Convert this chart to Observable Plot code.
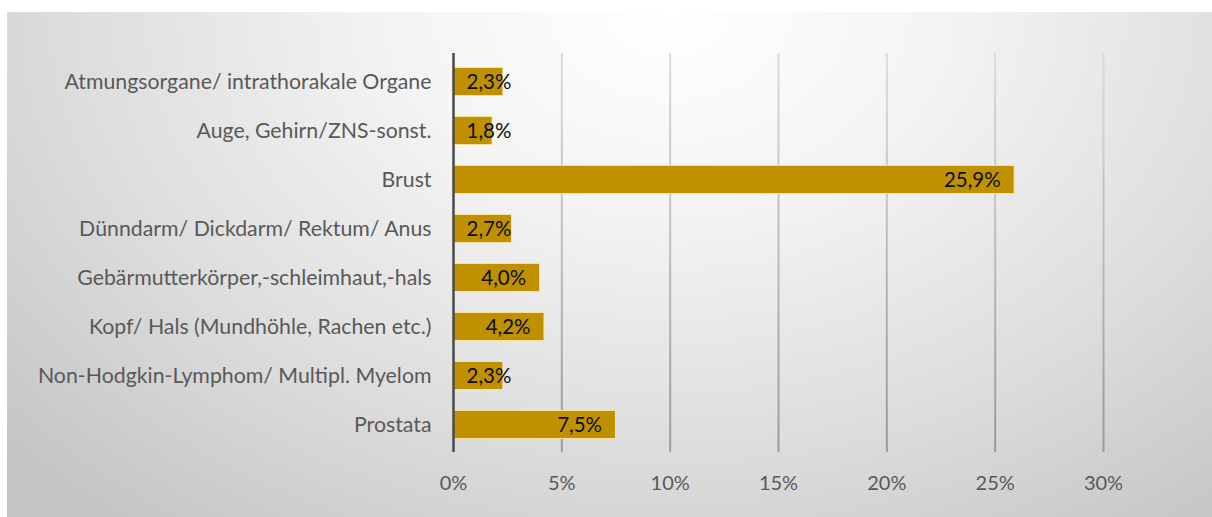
<!DOCTYPE html>
<html>
<head>
<meta charset="utf-8">
<script src="https://cdn.jsdelivr.net/npm/d3@7"></script>
<script src="https://cdn.jsdelivr.net/npm/@observablehq/plot@0.6"></script>
<style>
  html, body { margin: 0; padding: 0; background: #ffffff; }
  body { width: 1212px; height: 517px; position: relative; overflow: hidden; }
  #frame {
    position: absolute; left: 7px; top: 12px; width: 1205px; height: 505px;
    background: radial-gradient(ellipse 75% 130% at 55% 0%, #ffffff 0%, #f4f4f4 30%, #dedede 65%, #c4c4c4 100%);
  }
  #frame svg { position: absolute; left: 0; top: 0; }
</style>
</head>
<body>
<div id="frame"></div>
<script>
const categories = [
  "Atmungsorgane/ intrathorakale Organe",
  "Auge, Gehirn/ZNS-sonst.",
  "Brust",
  "Dünndarm/ Dickdarm/ Rektum/ Anus",
  "Gebärmutterkörper,-schleimhaut,-hals",
  "Kopf/ Hals (Mundhöhle, Rachen etc.)",
  "Non-Hodgkin-Lymphom/ Multipl. Myelom",
  "Prostata"
];
const values = [2.3, 1.8, 25.9, 2.7, 4.0, 4.2, 2.3, 7.5];
const xTicks = [0, 5, 10, 15, 20, 25, 30];

const data = categories.map((c, i) => ({cat: c, value: values[i]}));
const fmt = v => v.toFixed(1).replace(".", ",") + "%";
const shortBar = d => d.value < 3.5;

const svg = Plot.plot({
  width: 1205,
  height: 505,
  marginLeft: 446,
  marginRight: 109,
  marginTop: 41,
  marginBottom: 65,
  style: {background: "transparent", fontFamily: "Lato, 'Open Sans', sans-serif", fontSize: "20px"},
  x: {domain: [0, 30], ticks: xTicks},
  y: {domain: categories, padding: 0},
  marks: [
    Plot.ruleX(xTicks.filter(t => t > 0), {stroke: "url(#gridgrad)", strokeWidth: 2}),
    Plot.barX(data, {x: "value", y: "cat", fill: "#bf9000", stroke: "#fbe5a6", strokeWidth: 1, insetTop: 10.4, insetBottom: 10.4}),
    Plot.ruleX([0], {stroke: "#4a4a4a", strokeWidth: 2.5}),
    Plot.text(data.filter(d => !shortBar(d)), {x: "value", y: "cat", text: d => fmt(d.value), textAnchor: "end", dx: -14, fill: "#0d0d0d", fontSize: 20.5}),
    Plot.text(data.filter(shortBar), {x: 0, y: "cat", text: d => fmt(d.value), textAnchor: "start", dx: 13, fill: "#0d0d0d", fontSize: 20.5}),
    Plot.axisX({ticks: xTicks, tickFormat: d => d + "%", tickSize: 0, tickPadding: 23, color: "#595959", fontSize: 20, label: null}),
    Plot.axisY({tickSize: 0, tickPadding: 22, color: "#595959", fontSize: 21.3, label: null})
  ]
});

d3.select(svg).insert("defs", ":first-child").html(
  '<linearGradient id="gridgrad" gradientUnits="userSpaceOnUse" x1="0" y1="41" x2="0" y2="440">' +
  '<stop offset="0" stop-color="#dcdcdc"/><stop offset="1" stop-color="#9a9a9a"/></linearGradient>'
);

document.getElementById("frame").appendChild(svg);
</script>
</body>
</html>
